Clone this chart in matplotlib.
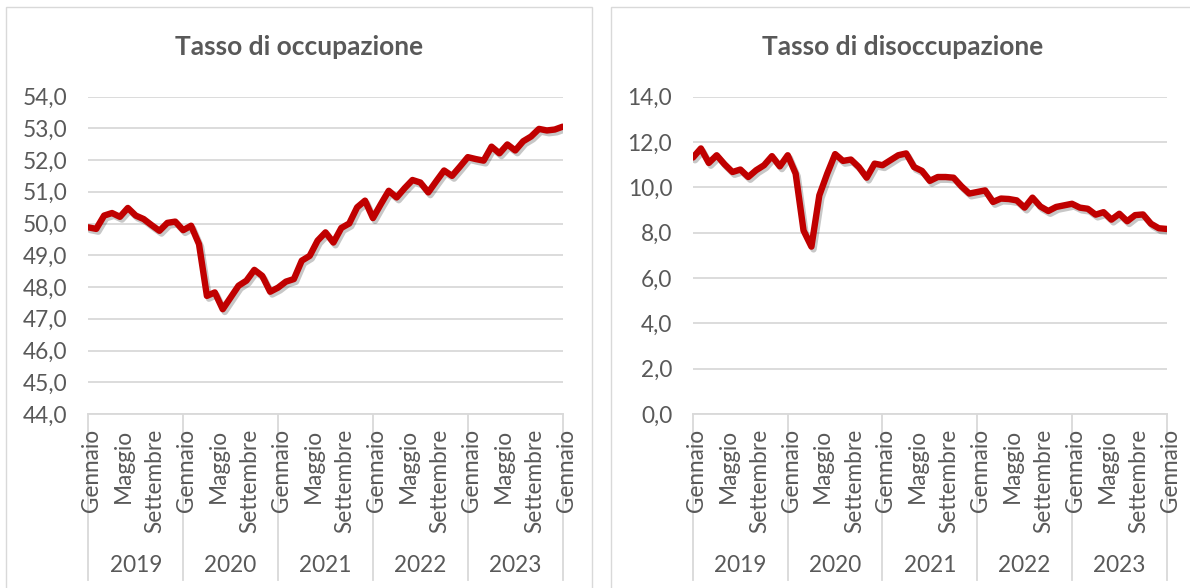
import numpy as np
import matplotlib
matplotlib.use("Agg")
import matplotlib.pyplot as plt
import matplotlib.patheffects as pe
from matplotlib.patches import Rectangle
from matplotlib.transforms import blended_transform_factory, ScaledTranslation

plt.rcParams['font.family'] = ['Lato', 'DejaVu Sans']

# monthly data, Gennaio 2019 -> Gennaio 2024
occupazione = [49.88, 49.83, 50.25, 50.33, 50.21, 50.49, 50.25, 50.14, 49.95, 49.77, 50.02, 50.06,
               49.79, 49.93, 49.35, 47.72, 47.83, 47.30, 47.67, 48.04, 48.20, 48.54, 48.35, 47.85,
               47.98, 48.17, 48.25, 48.83, 48.98, 49.46, 49.72, 49.40, 49.86, 50.00, 50.51, 50.72,
               50.17, 50.61, 51.03, 50.82, 51.11, 51.37, 51.29, 50.98, 51.33, 51.67, 51.50, 51.79,
               52.09, 52.03, 51.98, 52.42, 52.21, 52.49, 52.30, 52.59, 52.74, 52.98, 52.93, 52.96,
               53.05]
disoccupazione = [11.31, 11.71, 11.07, 11.41, 11.01, 10.67, 10.78, 10.45, 10.75, 10.97, 11.37, 10.92,
                  11.41, 10.60, 8.09, 7.38, 9.64, 10.60, 11.46, 11.16, 11.22, 10.89, 10.42, 11.04,
                  10.97, 11.19, 11.41, 11.49, 10.89, 10.72, 10.28, 10.45, 10.45, 10.42, 10.04, 9.72,
                  9.79, 9.86, 9.35, 9.50, 9.48, 9.42, 9.10, 9.54, 9.15, 8.95, 9.13, 9.20,
                  9.27, 9.10, 9.05, 8.79, 8.90, 8.57, 8.83, 8.50, 8.77, 8.80, 8.39, 8.19,
                  8.16]
anni = ['2019', '2020', '2021', '2022', '2023']
mesi_label = ['Gennaio', 'Maggio', 'Settembre']

x = np.arange(len(occupazione))
tick_pos = np.arange(0, len(x), 4)
tick_lab = [mesi_label[i % 3] for i in range(len(tick_pos))]

grey = '#595959'
grid = '#D9D9D9'
red = '#C00000'
fs = 16.3

W, H = 1190, 588
fig = plt.figure(figsize=(W / 100, H / 100), dpi=100)

# panel borders
fig.add_artist(Rectangle((6 / W, -0.05), (592 - 6) / W, 1.05 - 7 / H,
                         transform=fig.transFigure, fill=False, ec=grid, lw=1))
fig.add_artist(Rectangle((611 / W, -0.05), 0.6, 1.05 - 7 / H,
                         transform=fig.transFigure, fill=False, ec=grid, lw=1))


def pannello(left, right, y, ymin, ymax, step, titolo, title_x):
    bottom = 1 - 414 / H
    h_px = 414 - 96.5
    ax = fig.add_axes([left / W, bottom, (right - left) / W, h_px / H])
    ax.plot(x, y, color=red, lw=4.6, solid_capstyle='round', solid_joinstyle='round',
            path_effects=[pe.SimpleLineShadow(offset=(1.5, -2), shadow_color='k', alpha=0.22),
                          pe.Normal()], zorder=3)
    ax.set_xlim(0, len(x) - 1)
    ax.set_ylim(ymin, ymax)
    yt = np.arange(ymin, ymax + step / 2, step)
    ax.set_yticks(yt)
    ax.set_yticklabels([f'{v:.1f}'.replace('.', ',') for v in yt])
    ax.yaxis.grid(True, color=grid, lw=1.3)
    ax.set_axisbelow(True)
    for s in ['top', 'right', 'left']:
        ax.spines[s].set_visible(False)
    ax.spines['bottom'].set_color(grid)
    ax.spines['bottom'].set_linewidth(1.3)
    ax.set_xticks([])
    ax.tick_params(axis='both', length=0, colors=grey, labelsize=fs)
    ax.tick_params(axis='y', pad=15)

    tr = blended_transform_factory(ax.transData, ax.transAxes)
    shift = ScaledTranslation(3.5 / 100, 0, fig.dpi_scale_trans)
    for p, lab in zip(tick_pos, tick_lab):
        ax.text(p, -(429 - 414) / h_px, lab, transform=tr + shift, rotation=90,
                ha='center', va='top', color=grey, fontsize=fs)
    for b in range(0, len(x), 12):
        ax.plot([b, b], [0, -(580 - 414) / h_px], transform=tr, clip_on=False,
                color=grid, lw=1.3, zorder=0)
    for i, a in enumerate(anni):
        ax.text(6 + 12 * i, -(565 - 414) / h_px, a, transform=tr, ha='center', va='center',
                color=grey, fontsize=fs)
    fig.text(title_x / W, 1 - 47 / H, titolo, ha='center', va='center',
             fontsize=19, fontweight='bold', color=grey)
    return ax


pannello(88.3, 562.7, occupazione, 44, 54, 1, 'Tasso di occupazione', 299)
pannello(693, 1166.7, disoccupazione, 0, 14, 2, 'Tasso di disoccupazione', 903)

fig.savefig('out.png', dpi=100)
